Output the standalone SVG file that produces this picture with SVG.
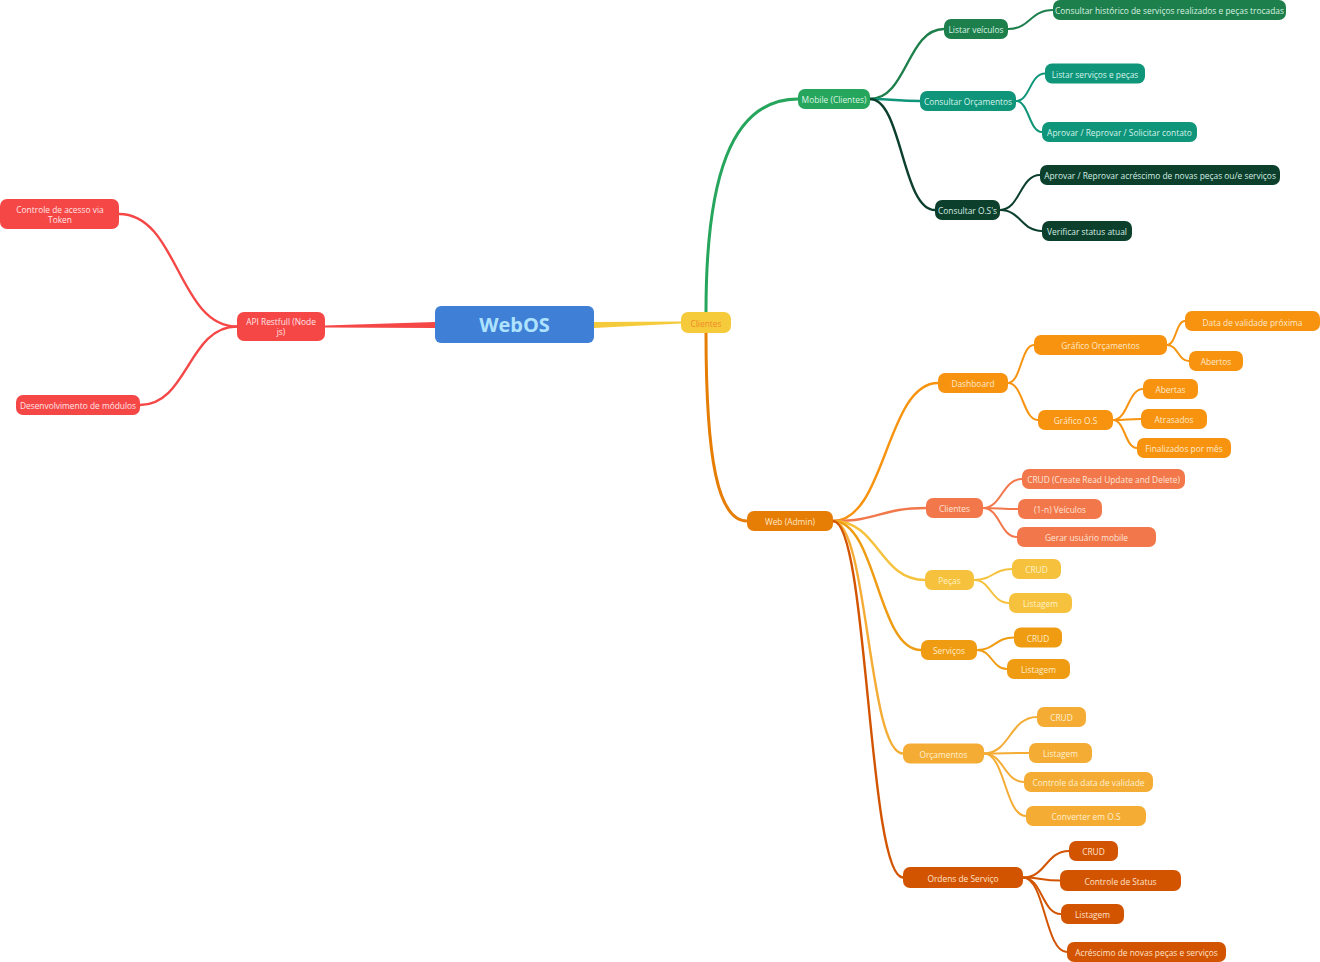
<svg xmlns="http://www.w3.org/2000/svg" width="1320" height="962" viewBox="0 0 1320 962">
<style>
text{font-family:"Open Sans","Noto Sans","Liberation Sans",sans-serif;font-size:8.4px;text-anchor:middle}
.c{fill:none;stroke-linecap:round}
.l1{stroke-width:3}
.l2{stroke-width:2.4}
.l3{stroke-width:2}
.red rect{fill:#f64747}.red text{fill:#ffe4e4}
.g1 rect{fill:#26a55c}.g1 text{fill:#dcf6e4}
.g2 rect{fill:#1d7f4c}.g2 text{fill:#d8f2e2}
.g3 rect{fill:#0f9579}.g3 text{fill:#d6f4ec}
.g4 rect{fill:#0c3f2c}.g4 text{fill:#d4eee2}
.wa rect{fill:#e67e05}.wa text{fill:#ffe6c6}
.db rect{fill:#f7930f}.db text{fill:#ffe9cc}
.cw rect{fill:#f2784b}.cw text{fill:#ffe4d8}
.pc rect{fill:#f6c23e}.pc text{fill:#fff1c4}
.sv rect{fill:#f09c13}.sv text{fill:#ffecc8}
.oc rect{fill:#f5ac35}.oc text{fill:#fff0d0}
.os rect{fill:#d35400}.os text{fill:#ffe2cc}
</style>
<rect width="1320" height="962" fill="#ffffff"/>
<g id="connectors">
  <path d="M594 322 L681 321.5 L681 323.5 L594 328 Z" fill="#f5cb3c"/>
  <path d="M435 322 L325 325.5 L325 327.5 L435 328 Z" fill="#f64747"/>
  <path class="c l1" stroke="#26a55c" d="M706 312 C706 180 730 99 798 99"/>
  <path class="c l1" stroke="#e67e05" d="M706 333 C706 460 718 521 747 521"/>
  <g stroke="#f64747" class="c l2">
    <path d="M237 326.5 C178 326.5 178 214 119 214"/>
    <path d="M237 326.5 C188 326.5 188 405 140 405"/>
  </g>
  <path class="c l2" stroke="#1d7f4c" d="M870 99 C907 99 907 29 944 29"/>
  <path class="c l2" stroke="#0f9579" d="M870 99 C895 99 895 101 920 101"/>
  <path class="c l2" stroke="#0c3f2c" d="M870 99 C902 99 902 210 935 210"/>
  <path class="c l3" stroke="#1d7f4c" d="M1008 29 C1030 29 1030 10 1053 10"/>
  <path class="c l3" stroke="#0f9579" d="M1016 101 C1030 101 1030 73.5 1045 73.5"/>
  <path class="c l3" stroke="#0f9579" d="M1016 101 C1029 101 1029 132 1042 132"/>
  <path class="c l3" stroke="#0c3f2c" d="M1000 210 C1020 210 1020 175 1040 175"/>
  <path class="c l3" stroke="#0c3f2c" d="M1000 210 C1021 210 1021 231 1042 231"/>
  <path class="c l2" stroke="#f7930f" d="M833 521 C886 521 886 383 938 383"/>
  <path class="c l2" stroke="#f2784b" d="M833 521 C880 521 880 508 926 508"/>
  <path class="c l2" stroke="#f6c23e" d="M833 521 C879 521 879 580 925 580"/>
  <path class="c l2" stroke="#f09c13" d="M833 521 C877 521 877 650 921 650"/>
  <path class="c l2" stroke="#f5ac35" d="M833 521 C868 521 868 753.5 903 753.5"/>
  <path class="c l2" stroke="#d35400" d="M833 521 C868 521 868 877.5 903 877.5"/>
  <g class="c l3" stroke="#f7930f">
    <path d="M1008 383 C1021 383 1021 345 1034 345"/>
    <path d="M1008 383 C1023 383 1023 420 1038 420"/>
    <path d="M1167 345 C1176 345 1176 321 1185 321"/>
    <path d="M1167 345 C1178 345 1178 361 1189 361"/>
    <path d="M1113 420 C1128 420 1128 389 1143 389"/>
    <path d="M1113 420 C1127 420 1127 419 1141 419"/>
    <path d="M1113 420 C1125 420 1125 448 1137 448"/>
  </g>
  <g class="c l3" stroke="#f2784b">
    <path d="M983 508 C1002 508 1002 479 1022 479"/>
    <path d="M983 508 C1000 508 1000 509 1018 509"/>
    <path d="M983 508 C1000 508 1000 537 1017 537"/>
  </g>
  <g class="c l3" stroke="#f6c23e">
    <path d="M974 580 C993 580 993 569 1012 569"/>
    <path d="M974 580 C991 580 991 603 1009 603"/>
  </g>
  <g class="c l3" stroke="#f09c13">
    <path d="M977 650 C995 650 995 637.5 1014 637.5"/>
    <path d="M977 650 C992 650 992 669 1007 669"/>
  </g>
  <g class="c l3" stroke="#f5ac35">
    <path d="M984 753.5 C1010 753.5 1010 717 1037 717"/>
    <path d="M984 753.5 C1006 753.5 1006 753 1029 753"/>
    <path d="M984 753.5 C1004 753.5 1004 782 1024 782"/>
    <path d="M984 753.5 C1005 753.5 1005 816 1026 816"/>
  </g>
  <g class="c l3" stroke="#d35400">
    <path d="M1023 877.5 C1046 877.5 1046 851 1069 851"/>
    <path d="M1023 877.5 C1041 877.5 1041 880.5 1060 880.5"/>
    <path d="M1023 877.5 C1042 877.5 1042 914 1061 914"/>
    <path d="M1023 877.5 C1045 877.5 1045 952 1067 952"/>
  </g>
</g>
<g id="root"><rect x="435" y="306" width="159" height="37" rx="6" fill="#3f7fd5"/><text x="514.5" y="332" style="font-size:20px;font-weight:bold;fill:#aee3ff">WebOS</text></g>
<g id="clientes_main"><rect x="681" y="312" width="50" height="21" rx="7" fill="#f5cb3c"/><text x="706" y="326.5" fill="#f0892a">Clientes</text></g>
<g id="api" class="red"><rect x="237" y="312" width="88" height="29" rx="7"/><text x="281" y="325">API Restfull (Node</text><text x="281" y="335">js)</text></g>
<g id="token" class="red"><rect x="0" y="199" width="119" height="30" rx="7"/><text x="60" y="212.5">Controle de acesso via</text><text x="60" y="222.5">Token</text></g>
<g id="modulos" class="red"><rect x="16" y="395" width="124" height="20" rx="7"/><text x="78" y="409">Desenvolvimento de módulos</text></g>
<g id="mobile" class="g1"><rect x="798" y="89" width="72" height="20" rx="7"/><text x="834" y="103">Mobile (Clientes)</text></g>
<g id="listar_veiculos" class="g2"><rect x="944" y="19" width="64" height="20" rx="7"/><text x="976" y="33">Listar veículos</text></g>
<g id="historico" class="g2"><rect x="1053" y="0" width="233" height="20" rx="7"/><text x="1169.5" y="14">Consultar histórico de serviços realizados e peças trocadas</text></g>
<g id="consultar_orc" class="g3"><rect x="920" y="91" width="96" height="20" rx="7"/><text x="968" y="105">Consultar Orçamentos</text></g>
<g id="listar_servicos" class="g3"><rect x="1045" y="63.5" width="100" height="20" rx="7"/><text x="1095" y="77.5">Listar serviços e peças</text></g>
<g id="aprovar_contato" class="g3"><rect x="1042" y="122" width="155" height="20" rx="7"/><text x="1119.5" y="136">Aprovar / Reprovar / Solicitar contato</text></g>
<g id="consultar_os" class="g4"><rect x="935" y="200" width="65" height="20" rx="7"/><text x="967.5" y="214">Consultar O.S's</text></g>
<g id="aprovar_acrescimo" class="g4"><rect x="1040" y="165" width="240" height="20" rx="7"/><text x="1160" y="179">Aprovar / Reprovar acréscimo de novas peças ou/e serviços</text></g>
<g id="verificar" class="g4"><rect x="1042" y="221" width="90" height="20" rx="7"/><text x="1087" y="235">Verificar status atual</text></g>
<g id="web_admin" class="wa"><rect x="747" y="511" width="86" height="20" rx="7"/><text x="790" y="525">Web (Admin)</text></g>
<g id="dashboard" class="db"><rect x="938" y="373" width="70" height="20" rx="7"/><text x="973" y="387">Dashboard</text></g>
<g id="grafico_orc" class="db"><rect x="1034" y="335" width="133" height="20" rx="7"/><text x="1100.5" y="349">Gráfico Orçamentos</text></g>
<g id="data_validade" class="db"><rect x="1185" y="311" width="135" height="20" rx="7"/><text x="1252.5" y="325.5">Data de validade próxima</text></g>
<g id="abertos" class="db"><rect x="1189" y="351" width="54" height="20" rx="7"/><text x="1216" y="365">Abertos</text></g>
<g id="grafico_os" class="db"><rect x="1038" y="410" width="75" height="20" rx="7"/><text x="1075.5" y="424">Gráfico O.S</text></g>
<g id="abertas" class="db"><rect x="1143" y="379" width="55" height="20" rx="7"/><text x="1170.5" y="393">Abertas</text></g>
<g id="atrasados" class="db"><rect x="1141" y="409" width="66" height="20" rx="7"/><text x="1174" y="423">Atrasados</text></g>
<g id="finalizados" class="db"><rect x="1137" y="438" width="94" height="20" rx="7"/><text x="1184" y="452">Finalizados por mês</text></g>
<g id="clientes_web" class="cw"><rect x="926" y="498" width="57" height="20" rx="7"/><text x="954.5" y="512">Clientes</text></g>
<g id="crud_clientes" class="cw"><rect x="1022" y="469" width="163" height="20" rx="7"/><text x="1103.5" y="483">CRUD (Create Read Update and Delete)</text></g>
<g id="veiculos" class="cw"><rect x="1018" y="499" width="84" height="20" rx="7"/><text x="1060" y="513">(1-n) Veículos</text></g>
<g id="gerar_usuario" class="cw"><rect x="1017" y="527" width="139" height="20" rx="7"/><text x="1086.5" y="541">Gerar usuário mobile</text></g>
<g id="pecas" class="pc"><rect x="925" y="570" width="49" height="20" rx="7"/><text x="949.5" y="584">Peças</text></g>
<g id="pecas_crud" class="pc"><rect x="1012" y="559" width="49" height="20" rx="7"/><text x="1036.5" y="573">CRUD</text></g>
<g id="pecas_listagem" class="pc"><rect x="1009" y="593" width="63" height="20" rx="7"/><text x="1040.5" y="607">Listagem</text></g>
<g id="servicos" class="sv"><rect x="921" y="640" width="56" height="20" rx="7"/><text x="949" y="654">Serviços</text></g>
<g id="servicos_crud" class="sv"><rect x="1014" y="627.5" width="48" height="20" rx="7"/><text x="1038" y="641.5">CRUD</text></g>
<g id="servicos_listagem" class="sv"><rect x="1007" y="659" width="63" height="20" rx="7"/><text x="1038.5" y="673">Listagem</text></g>
<g id="orcamentos" class="oc"><rect x="903" y="743.5" width="81" height="20" rx="7"/><text x="943.5" y="757.5">Orçamentos</text></g>
<g id="orc_crud" class="oc"><rect x="1037" y="707" width="49" height="20" rx="7"/><text x="1061.5" y="721">CRUD</text></g>
<g id="orc_listagem" class="oc"><rect x="1029" y="743" width="63" height="20" rx="7"/><text x="1060.5" y="757">Listagem</text></g>
<g id="orc_controle" class="oc"><rect x="1024" y="772" width="129" height="20" rx="7"/><text x="1088.5" y="786">Controle da data de validade</text></g>
<g id="orc_converter" class="oc"><rect x="1026" y="806" width="120" height="20" rx="7"/><text x="1086" y="820">Converter em O.S</text></g>
<g id="ordens" class="os"><rect x="903" y="867" width="120" height="21" rx="7"/><text x="963" y="881.5">Ordens de Serviço</text></g>
<g id="os_crud" class="os"><rect x="1069" y="841" width="49" height="20" rx="7"/><text x="1093.5" y="855">CRUD</text></g>
<g id="os_status" class="os"><rect x="1060" y="870" width="121" height="21" rx="7"/><text x="1120.5" y="884.5">Controle de Status</text></g>
<g id="os_listagem" class="os"><rect x="1061" y="904" width="63" height="20" rx="7"/><text x="1092.5" y="918">Listagem</text></g>
<g id="os_acrescimo" class="os"><rect x="1067" y="942" width="159" height="20" rx="7"/><text x="1146.5" y="956">Acréscimo de novas peças e serviços</text></g>
</svg>
